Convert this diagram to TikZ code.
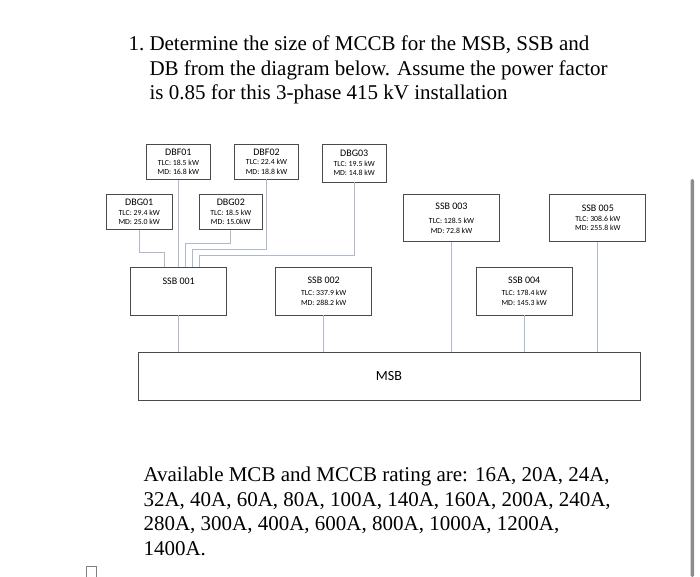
\documentclass[tikz,border=0pt]{standalone}
\usepackage{fontspec}
\setmainfont{Liberation Serif}
\newfontfamily\boxfont{Carlito}
\usetikzlibrary{positioning}
\definecolor{boxLine}{HTML}{4A4A4A}
\definecolor{wireBlue}{HTML}{AEB9CB}
\definecolor{barGray}{HTML}{8C8C8C}
\newcommand{\boardname}[1]{{\fontsize{10}{11.5}\selectfont #1}}

\begin{document}
\begin{tikzpicture}[
    x=1pt, y=-1pt,
    dbbox/.style={rectangle, draw=boxLine, line width=0.9pt, fill=white,
                 minimum width=64pt, minimum height=35pt, inner sep=1pt,
                 align=center, font=\boxfont\fontsize{7.8}{9.5}\selectfont},
    ssbbox/.style={dbbox, minimum width=96pt, minimum height=47.5pt},
    wire/.style={draw=wireBlue, line width=0.8pt},
    qtext/.style={anchor=base west, inner sep=0pt, align=left,
                 font=\fontsize{21}{24.5}\selectfont},
  ]
    \useasboundingbox (0,0) rectangle (700,577);

    % question (base anchor sits on the last line)
    \node[qtext] (qnum) at (128.3,51) {1.};
    \node[qtext] (qbody) at (149.3,100) {Determine the size of MCCB for the MSB, SSB and\\
      DB from the diagram below. Assume the power factor\\
      is 0.85 for this 3-phase 415 kV installation};

    \node[dbbox] (dbf01) at (178.4,161.8) {\boardname{DBF01}\\TLC: 18.5 kW\\MD: 16.8 kW};
    \node[dbbox] (dbf02) at (266.5,161.5) {\boardname{DBF02}\\TLC: 22.4 kW\\MD: 18.8 kW};
    \node[dbbox, minimum height=38pt] (dbg03) at (354.2,163) {\boardname{DBG03}\\TLC: 19.5 kW\\MD: 14.8 kW};
    \node[dbbox, minimum width=66pt] (dbg01) at (139.2,212.2) {\boardname{DBG01}\\TLC: 29.4 kW\\MD: 25.0 kW};
    \node[dbbox, minimum width=63pt] (dbg02) at (230.8,212.2) {\boardname{DBG02}\\TLC: 18.5 kW\\MD: 15.0kW};

    \node[ssbbox] (ssb001) at (178.7,291.2) {\boardname{SSB 001}\\\phantom{TLC}\\\phantom{MD}};
    \node[ssbbox] (ssb002) at (323.7,291.2) {\boardname{SSB 002}\\[3pt]TLC: 337.9 kW\\MD: 288.2 kW};
    \node[ssbbox] (ssb003) at (451.5,218) {\boardname{SSB 003}\\[5pt]TLC: 128.5 kW\\MD: 72.8 kW};
    \node[ssbbox] (ssb004) at (524.2,291.2) {\boardname{SSB 004}\\[3pt]TLC: 178.4 kW\\MD: 145.3 kW};
    \node[ssbbox] (ssb005) at (597.8,218) {\boardname{SSB 005}\\TLC: 308.6 kW\\MD: 255.8 kW};

    \node[dbbox, minimum width=502pt, minimum height=47.5pt,
          font=\boxfont\fontsize{14}{16}\selectfont] (msb) at (389,376.3) {MSB};

    % feeders into SSB 001
    \draw[wire] (dbg01.south) -- ++(0,22) -| ([xshift=-14pt]ssb001.north);
    \draw[wire] (dbf01.south) -- (dbf01.south |- ssb001.north);
    \draw[wire] (dbg02.south) -- ++(0,13) -| ([xshift=7pt]ssb001.north);
    \draw[wire] (dbf02.south) -- ++(0,70) -| ([xshift=14pt]ssb001.north);
    \draw[wire] (dbg03.south) -- ++(0,73) -| ([xshift=21pt]ssb001.north);

    % sub boards into MSB
    \draw[wire] (ssb001.south) -- (ssb001.south |- msb.north);
    \draw[wire] (ssb002.south) -- (ssb002.south |- msb.north);
    \draw[wire] (ssb003.south) -- (ssb003.south |- msb.north);
    \draw[wire] (ssb004.south) -- (ssb004.south |- msb.north);
    \draw[wire] (ssb005.south) -- (ssb005.south |- msb.north);

    \node[qtext] (ratings) at (143.3,555) {Available MCB and MCCB rating are: 16A, 20A, 24A,\\
      32A, 40A, 60A, 80A, 100A, 140A, 160A, 200A, 240A,\\
      280A, 300A, 400A, 600A, 800A, 1000A, 1200A,\\
      1400A.};

    \fill[barGray, rounded corners=1.5pt] (690.5,179) rectangle (694,577);
    \draw[gray, line width=0.6pt] (86.5,577) -- (86.5,566.5) -- (96.5,566.5) -- (96.5,577);
\end{tikzpicture}
\end{document}
